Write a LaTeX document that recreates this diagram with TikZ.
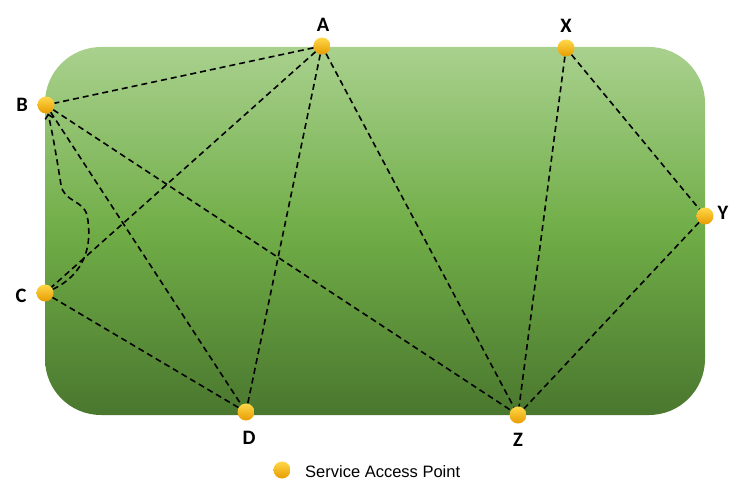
\documentclass[tikz,border=0pt]{standalone}
\usepackage{fontspec}
\usetikzlibrary{arrows.meta}
\setsansfont{Carlito}
\newfontfamily\legendfont{Liberation Sans}
\definecolor{fieldTop}{HTML}{A9D18E}
\definecolor{fieldMid}{HTML}{70AD47}
\definecolor{fieldBot}{HTML}{4A772E}
\definecolor{sapTop}{HTML}{FFD84A}
\definecolor{sapBot}{HTML}{E89C00}
\newcommand*{\fieldL}{45}
\newcommand*{\fieldR}{705}
\newcommand*{\fieldT}{47}
\newcommand*{\fieldB}{415}
\newcommand*{\crad  }{56pt}

\begin{document}
\begin{tikzpicture}[x=1pt, y=-1pt, font=\sffamily,
    sap/.style={circle, minimum size=17pt, inner sep=0pt, draw=none, top color=sapTop, bottom color=sapBot},
    lbl/.style={anchor=base, inner sep=0pt, font=\sffamily\bfseries\fontsize{20.5}{24}\selectfont},
    link/.style={draw=black, line width=1.6pt, dash pattern=on 6pt off 4pt}]
    \useasboundingbox (0,0) rectangle (745,492);
    	\shade [top color=fieldTop, bottom color=fieldBot, middle color=fieldMid, rounded corners=\crad] (\fieldL,\fieldT) rectangle (\fieldR,\fieldB);
        % access points
        \node [sap] (A) at (322,46)  {};
        \node [sap] (X) at (566,48)  {};
        \node [sap] (B) at (46,105)  {};
        \node [sap] (Y) at (705,216) {};
        \node [sap] (C) at (45,293)  {};
        \node [sap] (D) at (246,412) {};
        \node [sap] (Z) at (518,415) {};
        \node [lbl] (lA) at (323,32)  {A};
        \node [lbl] (lX) at (566,33)  {X};
        \node [lbl] (lB) at (22,112)  {B};
        \node [lbl] (lY) at (723,219) {Y};
        \node [lbl] (lC) at (21,302)  {C};
        \node [lbl] (lD) at (249,444) {D};
        \node [lbl] (lZ) at (518,446) {Z};
        % links
        \draw [link] (A) -- (B);
        \draw [link] (A) -- (C);
        \draw [link] (A) -- (D);
        \draw [link] (A) -- (Z);
        \draw [link] (B) -- (D);
        \draw [link] (B) -- (Z);
        \draw [link] (C) -- (D);
        \draw [link] (X) -- (Z);
        \draw [link] (X) -- (Y);
        \draw [link] (Y) -- (Z);
        \draw [link, -{Straight Barb[length=4pt,width=8pt]}] (C) .. controls (85,274) and (93,245) .. (87,215) .. controls (83,200) and (64,202) .. (61,185) .. controls (57,160) and (53,135) .. (B);
        % legend
        \node [sap] (key) at (282,470) {};
        \node [anchor=base west, inner sep=0pt, font=\legendfont\fontsize{16.5}{20}\selectfont] (keyText) at (305,477) {Service Access Point};
    \end{tikzpicture}
\end{document}
